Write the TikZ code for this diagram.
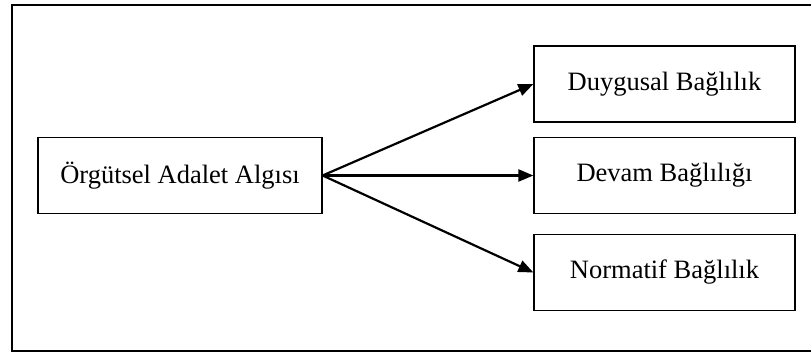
\documentclass[tikz,border=0pt]{standalone}
\usepackage{fontspec}
\setmainfont{Liberation Serif}
\usetikzlibrary{arrows.meta}

\begin{document}
\begin{tikzpicture}[x=0.5pt, y=-0.5pt,
    kutu/.style={draw, line width=0.6pt, minimum height=38pt, inner sep=0pt,
      font=\fontsize{13.25}{16}\selectfont},
    ok/.style={-{Triangle[length=7.5pt, width=6pt]}, line width=1.1pt}]
    \useasboundingbox (0,0) rectangle (811,353);
    \clip (0,0) rectangle (811,353);

    % Dis cerceve
    \draw[line width=0.6pt] (12,5) rectangle (830,351);

    % Bagimsiz degisken
    \node[kutu, minimum width=142pt] (adalet) at (180,175.5) {Örgütsel Adalet Algısı};

    % Bagimli degiskenler
    \node[kutu, minimum width=130.5pt] (duygusal) at (664.5,84) {Duygusal Bağlılık};
    \node[kutu, minimum width=130.5pt] (devam) at (664.5,175.5) {Devam Bağlılığı};
    \node[kutu, minimum width=130.5pt] (normatif) at (664.5,272.5) {Normatif Bağlılık};

    % Oklar
    \draw[ok] (adalet.east) -- (duygusal.west);
    \draw[ok] (adalet.east) -- (devam.west);
    \draw[ok] (adalet.east) -- (normatif.west);
\end{tikzpicture}
\end{document}
